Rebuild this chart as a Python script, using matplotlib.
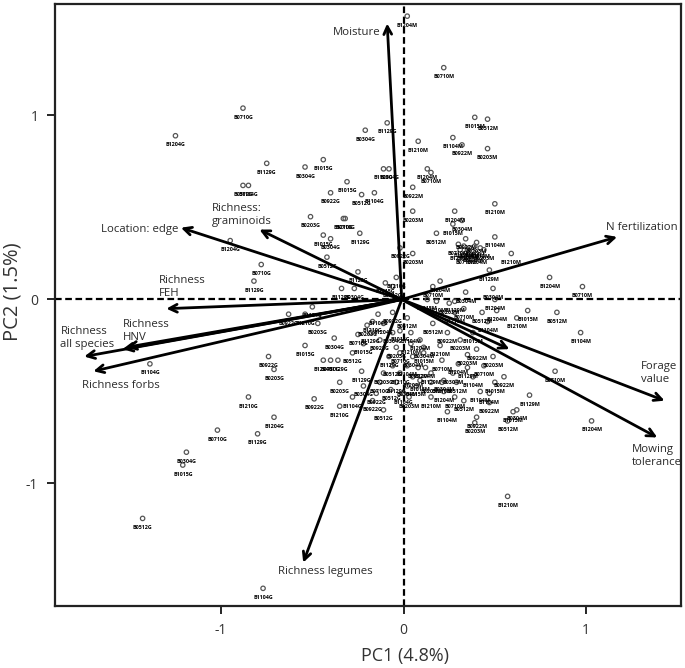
import matplotlib
matplotlib.use('Agg')
import matplotlib.pyplot as plt

pc1 = [
    -1.25, -0.88, -0.75, -0.54, -0.44, -0.88, -0.85, -0.40, -0.51, -0.33,
    -0.95, -0.78, -0.82, -0.40, -0.44, -0.42, -0.50, -0.63, -0.47, -0.54,
    0.02, 0.22, -0.09, -0.21, 0.39, 0.46, 0.27, 0.32, 0.46, 0.08,
    0.13, 0.15, -0.11, -0.08, -0.31, -0.23, -0.16, 0.05, 0.05, 0.50,
    0.28, -0.32, -0.24, 0.32, 0.27, 0.18, 0.50, 0.34, 0.40, 0.59,
    0.80, 0.98, 0.47, 0.49, 0.68, 0.84, 0.97, -0.02, 0.05, -0.04,
    0.20, 0.16, -0.25, 0.34, 0.13, 0.43, -1.39, -0.74, -0.71, -0.85,
    -0.71, -1.02, -0.80, -1.19, -1.21, -1.43, -0.77, -0.49, -0.35, -0.35,
    -0.44, -0.40, -0.36, -0.38, -0.54, -0.11, 0.24, 0.40, 0.39, 0.57,
    1.03, 0.83, 0.69, 0.62, 0.60, 0.57, 0.47, 0.55, 0.15, 0.21,
    0.30, 0.21, -0.23, -0.22, -0.22, -0.28, -0.14, -0.06, -0.20, -0.17,
    -0.11, -0.25, -0.18, -0.06, -0.02, 0.02, 0.04, -0.13, -0.04, 0.04,
    0.09, -0.02, -0.08, 0.05, 0.11, -0.06, 0.02, 0.08, -0.11, -0.02,
    0.05, -0.13, -0.04, 0.02, 0.09, -0.07, 0.00, -0.15, 0.25, 0.18,
    0.50, 0.33, 0.28, 0.11, 0.38, 0.16, 0.46, 0.40, 0.49, 0.62,
    0.12, 0.44, 0.35, 0.22, 0.50, 0.29, 0.38, 0.24, 0.31, 0.28,
    0.51, 0.30, 0.33, 0.36, 0.39, 0.42, 0.35, 0.38, 0.44, 0.31,
    0.40, 0.34, -0.34, -0.27, -0.10, -0.06, -0.28, -0.17, 0.03, 0.15,
    0.22, 0.28, 0.15, 0.27, 0.07, 0.33, 0.42, 0.47, 0.35, 0.20,
]
pc2 = [
    0.89, 1.04, 0.74, 0.72, 0.76, 0.62, 0.62, 0.58, 0.45, 0.44,
    0.32, 0.19, 0.10, 0.33, 0.35, 0.23, -0.04, -0.08, -0.13, -0.08,
    1.54, 1.26, 0.96, 0.92, 0.99, 0.98, 0.88, 0.84, 0.82, 0.86,
    0.71, 0.69, 0.71, 0.71, 0.64, 0.57, 0.58, 0.61, 0.48, 0.52,
    0.48, 0.44, 0.36, 0.43, 0.41, 0.36, 0.34, 0.33, 0.31, 0.25,
    0.12, 0.07, 0.16, 0.06, -0.06, -0.07, -0.18, 0.28, 0.25, 0.12,
    0.10, 0.07, 0.15, 0.04, 0.00, -0.07, -0.35, -0.31, -0.38, -0.53,
    -0.64, -0.71, -0.73, -0.83, -0.90, -1.19, -1.57, -0.54, -0.45, -0.58,
    -0.33, -0.33, -0.33, -0.21, -0.25, -0.60, -0.61, -0.64, -0.67, -1.07,
    -0.66, -0.39, -0.52, -0.60, -0.61, -0.66, -0.51, -0.42, -0.45, -0.45,
    -0.35, -0.33, -0.39, -0.47, -0.24, -0.29, -0.08, -0.07, -0.14, -0.12,
    -0.13, -0.19, -0.18, -0.18, -0.17, -0.10, -0.18, -0.22, -0.26, -0.24,
    -0.22, -0.29, -0.31, -0.31, -0.29, -0.36, -0.36, -0.37, -0.40, -0.40,
    -0.42, -0.45, -0.45, -0.47, -0.44, -0.49, -0.51, -0.51, -0.02, -0.01,
    0.00, -0.05, -0.01, -0.26, -0.18, -0.13, -0.12, -0.27, -0.31, -0.10,
    -0.37, -0.36, -0.37, -0.44, -0.45, -0.45, -0.42, -0.18, -0.22, -0.07,
    -0.06, 0.30, 0.29, 0.28, 0.29, 0.28, 0.27, 0.26, 0.27, 0.27,
    0.25, 0.25, 0.06, 0.06, 0.09, 0.07, -0.53, -0.55, -0.53, -0.53,
    -0.50, -0.53, -0.40, -0.40, -0.47, -0.55, -0.50, -0.56, -0.30, -0.25,
]
# the plot codes are too blurred to read, these are only look-alikes
plot_codes = ['B1204', 'B0710', 'B1129', 'B0304', 'B1015', 'B0512', 'B1104', 'B0922', 'B0203', 'B1210']

arrow_x = [-0.09, 1.17, -1.22, -0.79, -1.30, -1.75, -1.54, -1.52, -1.70, -0.55, 1.43, 1.39, 0.58]
arrow_y = [1.50, 0.34, 0.39, 0.38, -0.05, -0.31, -0.27, -0.26, -0.39, -1.43, -0.55, -0.75, -0.27]

var_labels = ['Moisture', 'N fertilization', 'Location: edge', 'Richness:\ngraminoids', 'Richness\nFEH',
              'Richness\nall species', 'Richness\nHNV', 'Richness forbs', 'Richness legumes',
              'Forage\nvalue', 'Mowing\ntolerance']
label_x = [-0.39, 1.11, -1.66, -1.05, -1.34, -1.88, -1.54, -1.76, -0.69, 1.30, 1.25]
label_y = [1.45, 0.39, 0.38, 0.46, 0.07, -0.21, -0.17, -0.47, -1.48, -0.40, -0.85]

plt.rcParams['font.family'] = ['Open Sans', 'DejaVu Sans']
plt.rcParams['axes.unicode_minus'] = False

fig = plt.figure(figsize=(6.85, 6.68), dpi=100)
ax = fig.add_axes([55 / 685, 62 / 668, 626 / 685, 602 / 668])

ax.axhline(0, color='black', linestyle='--', linewidth=1.6, dashes=(3, 1.6), zorder=2)
ax.axvline(0, color='black', linestyle='--', linewidth=1.6, dashes=(3, 1.6), zorder=2)

ax.scatter(pc1, pc2, s=10, facecolors='none', edgecolors='#555555', linewidths=0.9, zorder=3)
for i, (x, y) in enumerate(zip(pc1, pc2)):
    suffix = 'M' if x > 0 else 'G'
    ax.annotate(plot_codes[i % len(plot_codes)] + suffix, xy=(x, y), xytext=(0, -6.5),
                textcoords='offset points', ha='center', va='center',
                fontsize=3.9, fontweight='bold', color='black', zorder=3)

for x, y in zip(arrow_x, arrow_y):
    ax.annotate('', xy=(x, y), xytext=(-0.01, 0),
                arrowprops=dict(arrowstyle='->', color='black', lw=2, mutation_scale=14,
                                shrinkA=0, shrinkB=0),
                zorder=4)

for x, y, name in zip(label_x, label_y, var_labels):
    ax.text(x, y, name, ha='left', va='center', fontsize=8.2, color='#2a2a2a', linespacing=1.25, zorder=5)

ax.set_xlim(-1.91, 1.52)
ax.set_ylim(-1.666, 1.606)
ax.set_xticks([-1, 0, 1])
ax.set_yticks([-1, 0, 1])
ax.tick_params(length=6, width=1.2, labelsize=10, labelcolor='#333333', pad=6)
for s in ax.spines.values():
    s.set_linewidth(1.6)
    s.set_color('#222222')

fig.text(405 / 685, 1 - 656 / 668, 'PC1 (4.8%)', fontsize=13, color='#333333', ha='center', va='center')
fig.text(13 / 685, 1 - 292 / 668, 'PC2 (1.5%)', fontsize=14.5, color='#333333', ha='center', va='center',
         rotation=90)

fig.savefig('out.png', dpi=100)
